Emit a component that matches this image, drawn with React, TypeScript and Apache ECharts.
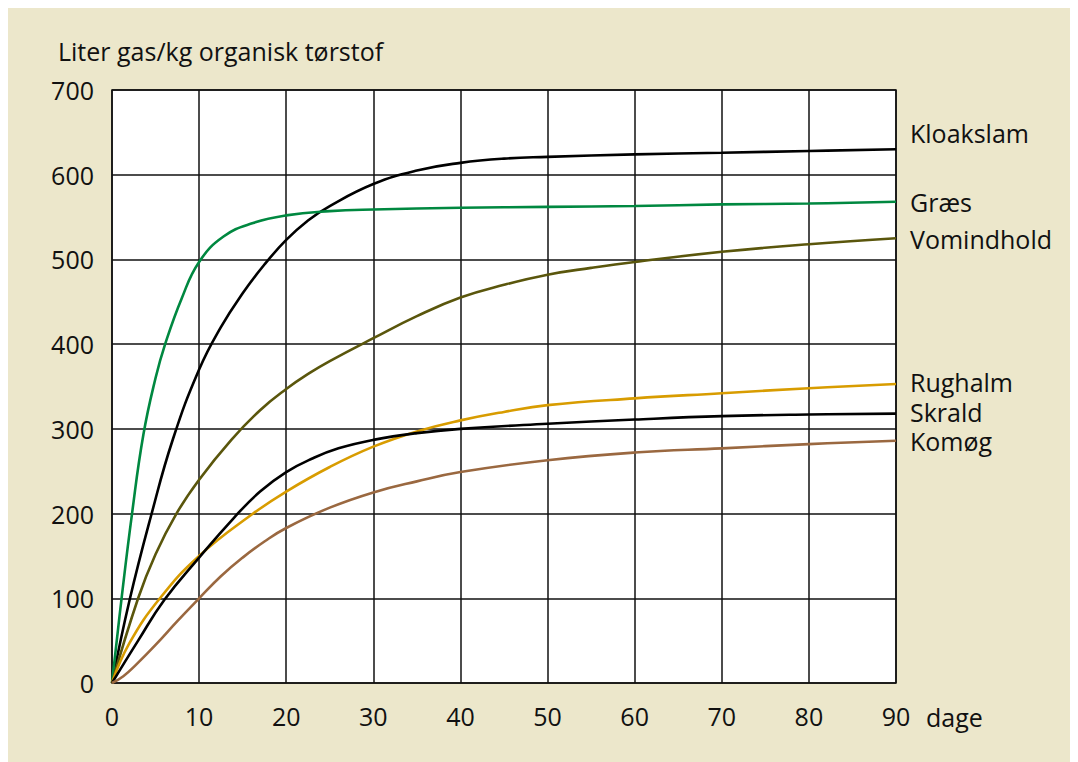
import React, { useEffect, useRef } from "react";
import * as echarts from "echarts";

const xTicks = [0, 10, 20, 30, 40, 50, 60, 70, 80, 90];
const yTicks = [0, 100, 200, 300, 400, 500, 600, 700];

const kloakDays = [0, 2, 4.5, 7, 10, 12.5, 15, 17.5, 20, 22.5, 25, 30, 35, 40, 45, 50, 60, 70, 80, 90];
const kloakVals = [0, 97, 198, 288, 370, 420, 460, 494, 523, 546, 563, 589, 605, 614, 619, 621, 624, 626, 628, 630];

const graesDays = [0, 1.1, 2.3, 3.6, 5, 6.1, 8, 10, 12.8, 16.2, 20, 25, 30, 40, 50, 60, 70, 80, 90];
const graesVals = [0, 100, 200, 293, 360, 400, 454, 497, 527, 543, 552, 557, 559, 561, 562, 563, 565, 566, 568];

const vomDays = [0, 3, 5, 7.4, 10, 13.7, 17, 20, 22.7, 25, 30, 35, 40, 45, 50, 55, 60, 70, 80, 90];
const vomVals = [0, 100, 152, 200, 240, 287, 322, 347, 366, 380, 407, 433, 455, 470, 482, 490, 497, 509, 518, 525];

const rugDays = [0, 2, 5.5, 10, 16.2, 20, 25, 30, 35, 40, 45, 50, 60, 70, 80, 90];
const rugVals = [0, 47, 100, 150, 200, 226, 255, 279, 297, 310, 320, 328, 336, 342, 348, 353];

const skrDays = [0, 3, 6, 10, 14, 17, 20, 23, 26, 30, 35, 40, 50, 60, 70, 80, 90];
const skrVals = [0, 50, 98, 148, 195, 226, 249, 265, 277, 287, 295, 300, 306, 311, 315, 317, 318];

const komDays = [0, 1.3, 2.8, 5, 7.5, 10, 12.5, 15, 17.5, 20, 25, 30, 35, 40, 50, 60, 70, 80, 90];
const komVals = [0, 8, 22, 45, 73, 100, 126, 148, 167, 183, 207, 225, 238, 249, 263, 272, 277, 282, 286];

const FONT = "'Open Sans', 'Noto Sans', sans-serif";
const FS = 25;

function pairs(xs: number[], ys: number[]) {
  return xs.map((x, i) => [x, ys[i]]);
}

function mkSeries(name: string, xs: number[], ys: number[], color: string, offset: number[]) {
  return {
    type: "line",
    name,
    data: pairs(xs, ys),
    smooth: 0.45,
    showSymbol: false,
    symbol: "none",
    lineStyle: { color, width: 2.6 },
    itemStyle: { color },
    endLabel: {
      show: true,
      formatter: name,
      color: "#111",
      fontSize: FS,
      lineHeight: 24,
      fontFamily: FONT,
      distance: 14,
      offset,
    },
    z: 3,
  };
}

export default function App() {
  const ref = useRef<HTMLDivElement>(null);
  useEffect(() => {
    if (!ref.current) return;
    const chart = echarts.init(ref.current, undefined, { renderer: "svg" });
    chart.setOption({
      animation: false,
      backgroundColor: "#ece7cb",
      title: {
        text: "Liter gas/kg organisk tørstof",
        left: 45,
        top: 25,
        textStyle: { fontSize: FS, fontWeight: "normal", color: "#111", fontFamily: FONT },
      },
      grid: {
        left: 104,
        top: 82,
        width: 784,
        height: 593,
        show: true,
        backgroundColor: "#ffffff",
        borderColor: "#111",
        borderWidth: 1.5,
      },
      xAxis: {
        type: "value",
        min: xTicks[0],
        max: xTicks[xTicks.length - 1],
        interval: 10,
        name: "dage",
        nameLocation: "end",
        nameGap: 30,
        nameTextStyle: {
          fontSize: FS,
          color: "#111",
          fontFamily: FONT,
          verticalAlign: "top",
          lineHeight: 68,
        },
        axisLine: { show: false },
        axisTick: { show: false },
        axisLabel: { fontSize: FS, color: "#111", fontFamily: FONT, margin: 20 },
        splitLine: { show: true, lineStyle: { color: "#111", width: 1.5 } },
      },
      yAxis: {
        type: "value",
        min: yTicks[0],
        max: yTicks[yTicks.length - 1],
        interval: 100,
        axisLine: { show: false },
        axisTick: { show: false },
        axisLabel: { fontSize: FS, color: "#111", fontFamily: FONT, margin: 18 },
        splitLine: { show: true, lineStyle: { color: "#111", width: 1.5 } },
      },
      series: [
        mkSeries("Kloakslam", kloakDays, kloakVals, "#000000", [0, -16]),
        mkSeries("Græs", graesDays, graesVals, "#008840", [0, 0]),
        mkSeries("Vomindhold", vomDays, vomVals, "#5a560c", [0, 1]),
        mkSeries("Rughalm", rugDays, rugVals, "#d89c00", [0, -2]),
        mkSeries("Skrald", skrDays, skrVals, "#000000", [0, -2]),
        mkSeries("Komøg", komDays, komVals, "#9a6840", [0, 0]),
      ],
    });
    return () => chart.dispose();
  }, []);
  return <div ref={ref} style={{ width: 1062, height: 754 }} />;
}
